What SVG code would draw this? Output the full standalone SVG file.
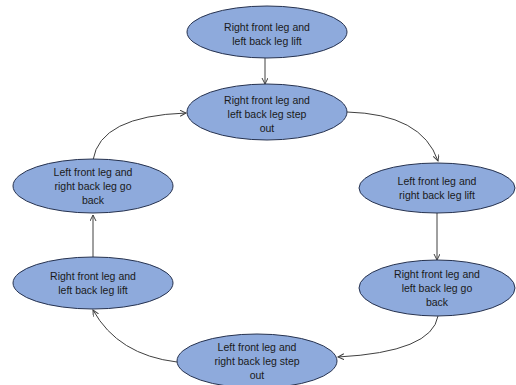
<svg xmlns="http://www.w3.org/2000/svg" width="516" height="385" viewBox="0 0 516 385">
<style>
.n ellipse{fill:#8eaadc;stroke:#26324f;stroke-width:1}
.n text{font-family:"Liberation Sans",Arial,sans-serif;font-size:10.5px;fill:#1a1a1a;text-anchor:middle}
.c path{fill:none;stroke:#404040;stroke-width:1;marker-end:url(#a)}
</style>
<defs>
<marker id="a" markerWidth="8" markerHeight="8" refX="6" refY="3" orient="auto" markerUnits="userSpaceOnUse">
<path d="M0,0 L6,3 L0,6" fill="none" stroke="#404040" stroke-width="1"/>
</marker>
</defs>
<rect width="516" height="385" fill="#fff"/>
<g class="c" id="connectors">
<path d="M265,58 L265,84"/>
<path d="M347,112 Q422,114 438,161"/>
<path d="M437,213 L437,260"/>
<path d="M438,316 Q432,352 338,357"/>
<path d="M177,362 Q118,355 93,310"/>
<path d="M93,257 L93,215"/>
<path d="M93,160 Q100,116 186,113"/>
</g>
<g class="n" id="n1"><ellipse cx="267" cy="32" rx="80" ry="26"/><text x="267" y="31">Right front leg and</text><text x="267" y="45">left back leg lift</text></g>
<g class="n" id="n2"><ellipse cx="267" cy="112" rx="80" ry="28"/><text x="267" y="104">Right front leg and</text><text x="267" y="118">left back leg step</text><text x="267" y="132">out</text></g>
<g class="n" id="n3"><ellipse cx="437" cy="188" rx="78" ry="25"/><text x="437" y="185">Left front leg and</text><text x="437" y="199">right back leg lift</text></g>
<g class="n" id="n4"><ellipse cx="437" cy="288" rx="78" ry="28"/><text x="437" y="278">Right front leg and</text><text x="437" y="292">left back leg go</text><text x="437" y="306">back</text></g>
<g class="n" id="n5"><ellipse cx="257" cy="361" rx="80" ry="27"/><text x="257" y="351">Left front leg and</text><text x="257" y="365">right back leg step</text><text x="257" y="379">out</text></g>
<g class="n" id="n6"><ellipse cx="93" cy="283" rx="80" ry="26"/><text x="93" y="280">Right front leg and</text><text x="93" y="294">left back leg lift</text></g>
<g class="n" id="n7"><ellipse cx="93" cy="186" rx="80" ry="27"/><text x="93" y="176">Left front leg and</text><text x="93" y="190">right back leg go</text><text x="93" y="204">back</text></g>
</svg>
